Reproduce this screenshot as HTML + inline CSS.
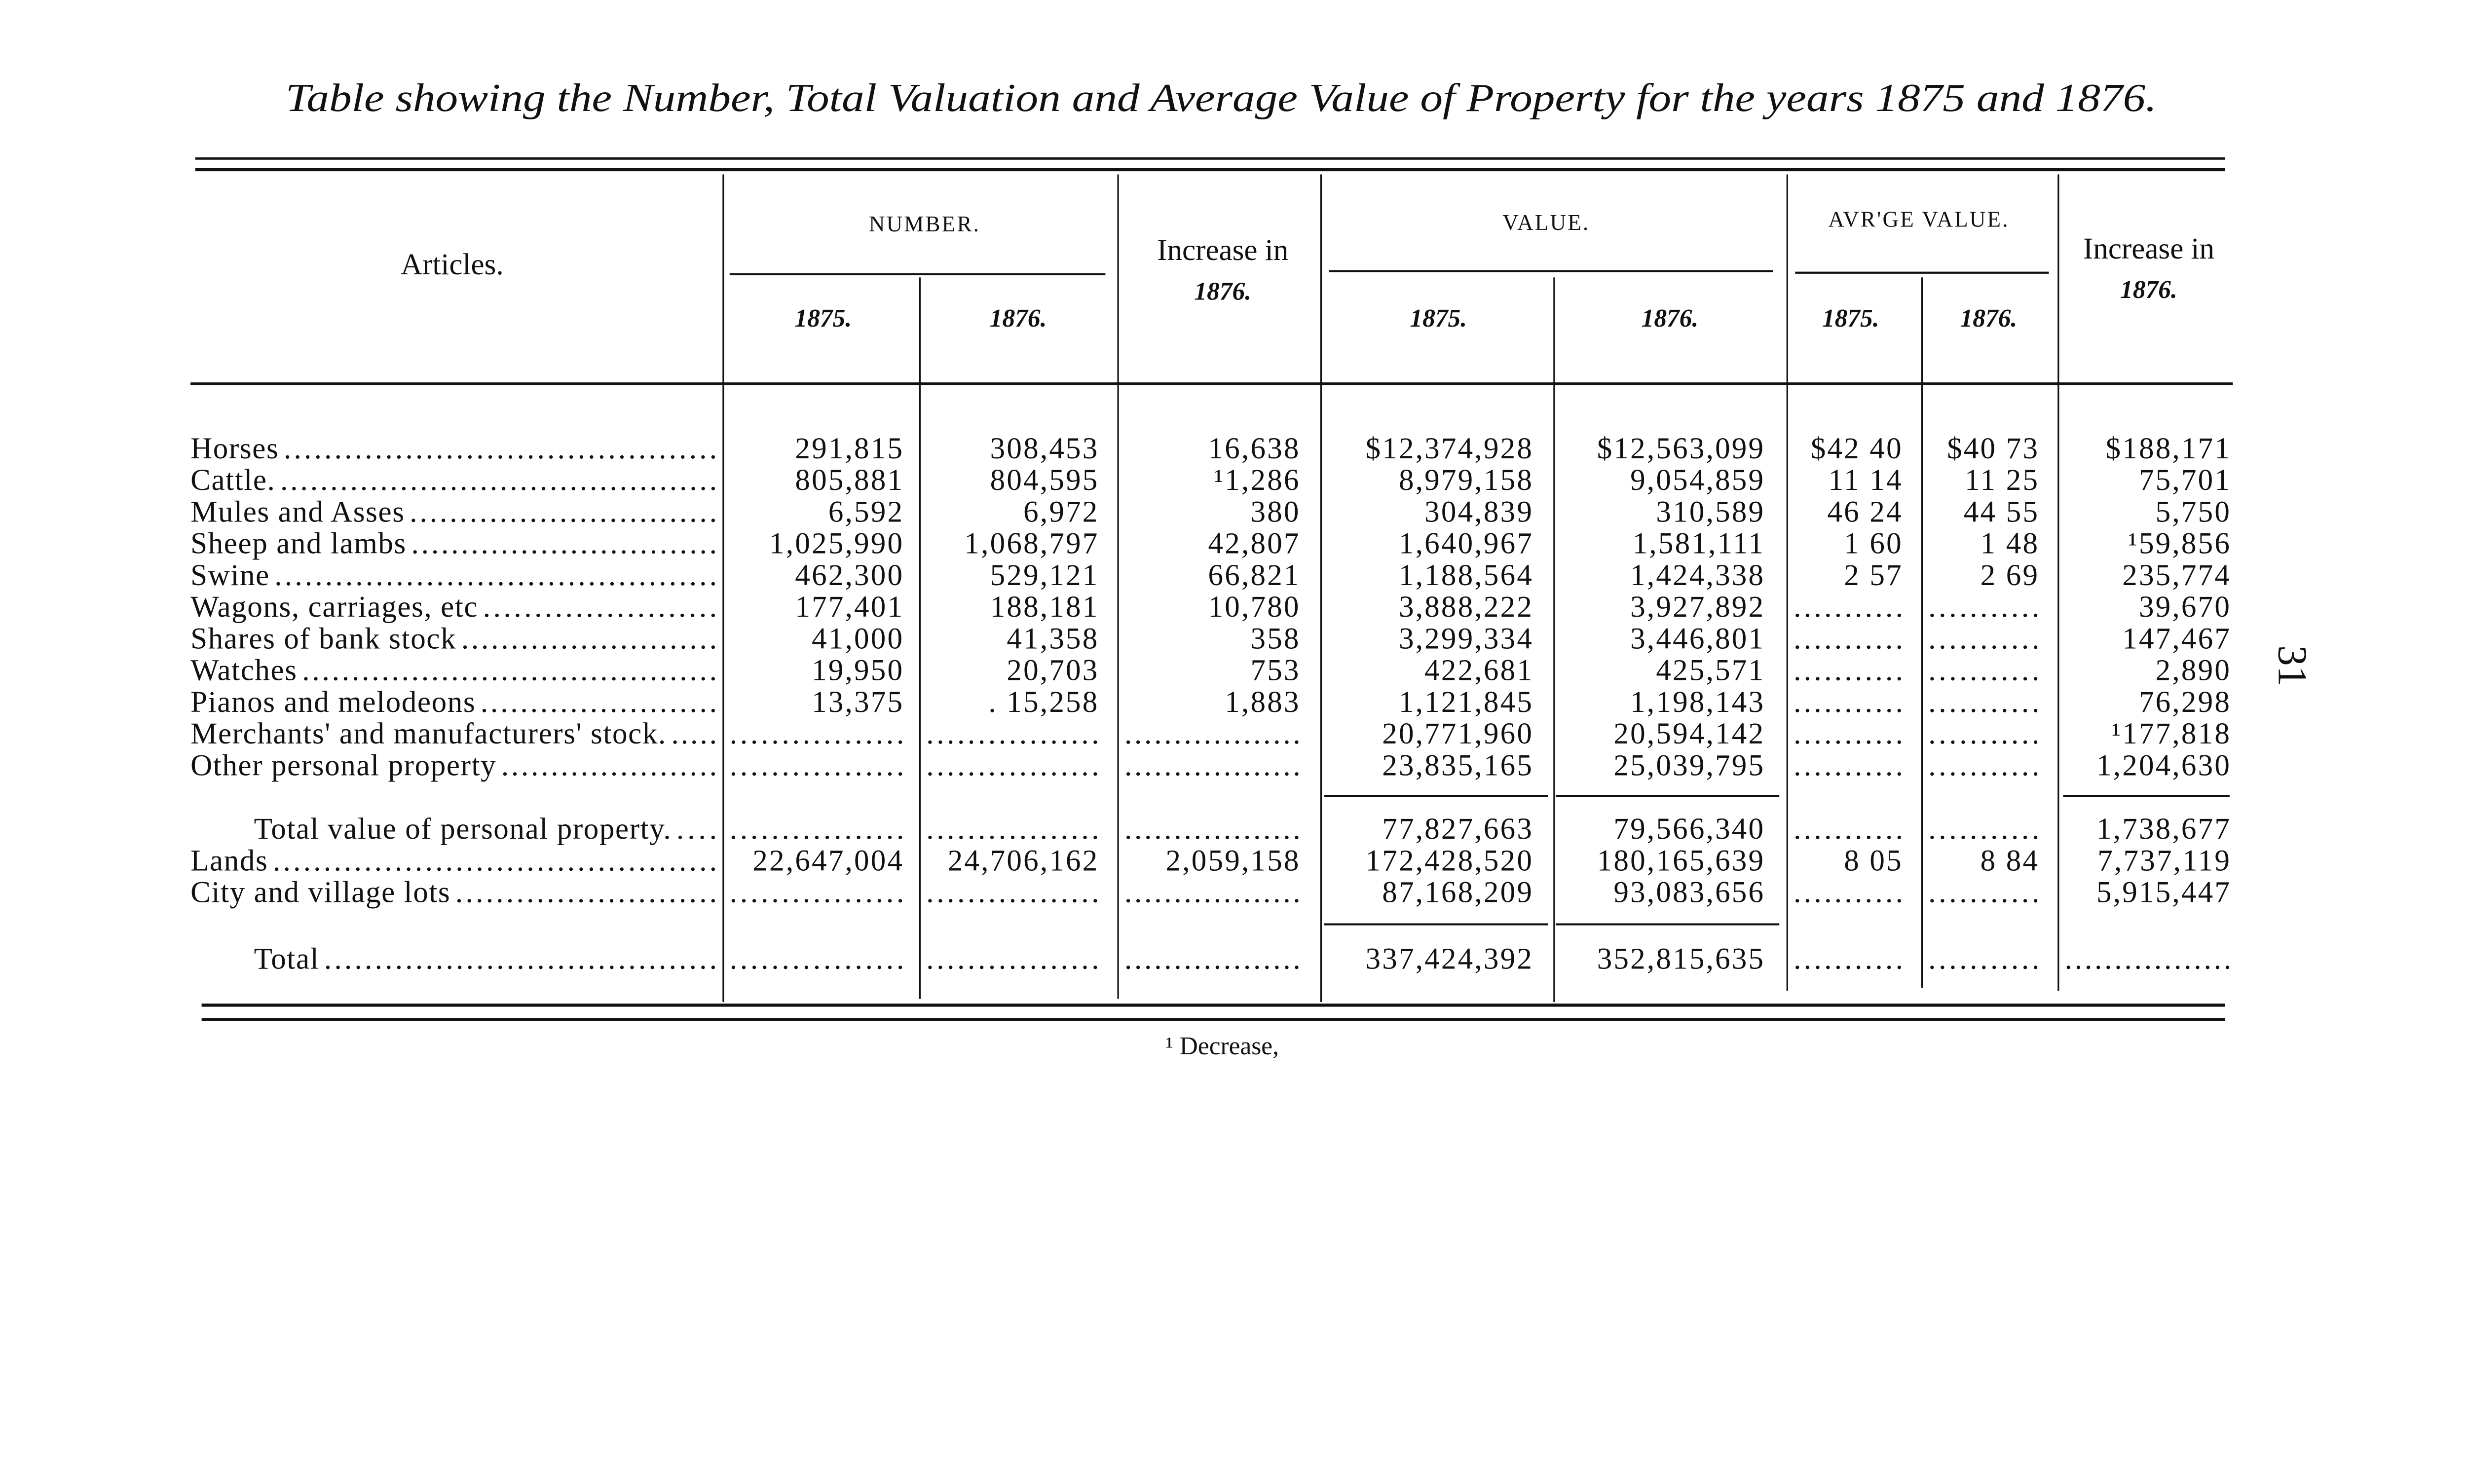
<!DOCTYPE html>
<html><head><meta charset="utf-8"><style>
html,body{margin:0;padding:0;background:#fff;}
svg{display:block;}
text{font-family:"Liberation Serif",serif;fill:#111;}
</style></head><body>
<svg id="s" width="5040" height="3008" viewBox="0 0 1568 936">
<text x="770" y="70" text-anchor="middle" font-size="25" font-style="italic" textLength="1180" lengthAdjust="spacingAndGlyphs">Table showing the Number, Total Valuation and Average Value of Property for the years 1875 and 1876.</text>
<g stroke="#111">
<line x1="123" y1="100" x2="1403" y2="100" stroke-width="1.5"/>
<line x1="123" y1="107" x2="1403" y2="107" stroke-width="2"/>
<line x1="460" y1="173" x2="697" y2="173" stroke-width="1.3"/>
<line x1="838" y1="171" x2="1118" y2="171" stroke-width="1.3"/>
<line x1="1132" y1="172" x2="1292" y2="172" stroke-width="1.3"/>
<line x1="120" y1="242" x2="1408" y2="242" stroke-width="1.6"/>
<line x1="835" y1="502" x2="976" y2="502" stroke-width="1.3"/>
<line x1="981" y1="502" x2="1122" y2="502" stroke-width="1.3"/>
<line x1="1301" y1="502" x2="1406" y2="502" stroke-width="1.3"/>
<line x1="835" y1="583" x2="976" y2="583" stroke-width="1.3"/>
<line x1="981" y1="583" x2="1122" y2="583" stroke-width="1.3"/>
<line x1="127" y1="634" x2="1403" y2="634" stroke-width="2"/>
<line x1="127" y1="643" x2="1403" y2="643" stroke-width="1.8"/>
<line x1="456" y1="110" x2="456" y2="632" stroke-width="1"/>
<line x1="580" y1="175" x2="580" y2="630" stroke-width="1"/>
<line x1="705" y1="110" x2="705" y2="630" stroke-width="1"/>
<line x1="833" y1="110" x2="833" y2="632" stroke-width="1"/>
<line x1="980" y1="175" x2="980" y2="632" stroke-width="1"/>
<line x1="1127" y1="110" x2="1127" y2="625" stroke-width="1"/>
<line x1="1212" y1="175" x2="1212" y2="623" stroke-width="1"/>
<line x1="1298" y1="110" x2="1298" y2="625" stroke-width="1"/>
</g>
<g text-anchor="middle">
<text x="285" y="173" font-size="19">Articles.</text>
<text x="583" y="146" font-size="14" letter-spacing="1">NUMBER.</text>
<text x="771" y="164" font-size="19">Increase in</text>
<text x="771" y="189" font-size="16" font-style="italic" font-weight="bold">1876.</text>
<text x="975" y="145" font-size="14" letter-spacing="1">VALUE.</text>
<text x="1210" y="143" font-size="14" letter-spacing="1">AVR'GE VALUE.</text>
<text x="1355" y="163" font-size="19">Increase in</text>
<text x="1355" y="188" font-size="16" font-style="italic" font-weight="bold">1876.</text>
<g font-size="16" font-style="italic" font-weight="bold">
<text x="519" y="206">1875.</text>
<text x="642" y="206">1876.</text>
<text x="907" y="206">1875.</text>
<text x="1053" y="206">1876.</text>
<text x="1167" y="206">1875.</text>
<text x="1254" y="206">1876.</text>
</g>
</g>
<g id="body" font-size="19"></g>
<text x="735" y="665" font-size="16">¹ Decrease,</text>
<text transform="translate(1437,420) rotate(90)" font-size="26" text-anchor="middle">31</text>
</svg>
<script>
const labels=["Horses","Cattle.","Mules and Asses","Sheep and lambs","Swine","Wagons, carriages, etc","Shares of bank stock","Watches","Pianos and melodeons","Merchants' and manufacturers' stock.","Other personal property","Total value of personal property.","Lands","City and village lots","Total"];
const num1875=["291,815","805,881","6,592","1,025,990","462,300","177,401","41,000","19,950","13,375","","","","22,647,004","",""];
const num1876=["308,453","804,595","6,972","1,068,797","529,121","188,181","41,358","20,703",". 15,258","","","","24,706,162","",""];
const numInc=["16,638","¹1,286","380","42,807","66,821","10,780","358","753","1,883","","","","2,059,158","",""];
const val1875=["$12,374,928","8,979,158","304,839","1,640,967","1,188,564","3,888,222","3,299,334","422,681","1,121,845","20,771,960","23,835,165","77,827,663","172,428,520","87,168,209","337,424,392"];
const val1876=["$12,563,099","9,054,859","310,589","1,581,111","1,424,338","3,927,892","3,446,801","425,571","1,198,143","20,594,142","25,039,795","79,566,340","180,165,639","93,083,656","352,815,635"];
const avg1875=["$42 40","11 14","46 24","1 60","2 57","","","","","","","","8 05","",""];
const avg1876=["$40 73","11 25","44 55","1 48","2 69","","","","","","","","8 84","",""];
const valInc=["$188,171","75,701","5,750","¹59,856","235,774","39,670","147,467","2,890","76,298","¹177,818","1,204,630","1,738,677","7,737,119","5,915,447",""];
const rowY=[289,309,329,349,369,389,409,429,449,469,489,529,549,569,611];
const indent=[0,0,0,0,0,0,0,0,0,0,0,1,0,0,1];
const cols=[[num1875,460,570],[num1876,584,693],[numInc,709,820],[val1875,837,967],[val1876,984,1113],[avg1875,1131,1200],[avg1876,1216,1286],[valInc,1302,1407]];
const NS="http://www.w3.org/2000/svg";
const body=document.getElementById("body");
function mk(x,y,str,anchor){const t=document.createElementNS(NS,"text");t.setAttribute("x",x);t.setAttribute("y",y);if(anchor)t.setAttribute("text-anchor",anchor);t.textContent=str;body.appendChild(t);return t;}
labels.forEach((lab,i)=>{
  const y=rowY[i];
  const lx=indent[i]?160:120;
  const t=mk(lx,y,lab);
  t.setAttribute("letter-spacing","0.5");
  
  
  const end=lx+t.getComputedTextLength()+3;
  if(end<450){const d=mk(end,y,".".repeat(Math.max(2,Math.round((452-end)/6.3))));d.setAttribute("textLength",452-end);d.setAttribute("lengthAdjust","spacing");
  
  }
  cols.forEach(([arr,x0,x1])=>{
    const v=arr[i];
    if(v){const c=mk(x1,y,v,"end");
      c.setAttribute("letter-spacing","1");
      
      }
    else {
      if(i===11&&(x0===837||x0===984))return;
      const d=mk(x0,y,".".repeat(Math.round((x1-x0)/6.3)));d.setAttribute("textLength",x1-x0);d.setAttribute("lengthAdjust","spacing");
      
      }
  });
});
</script>
</body></html>
